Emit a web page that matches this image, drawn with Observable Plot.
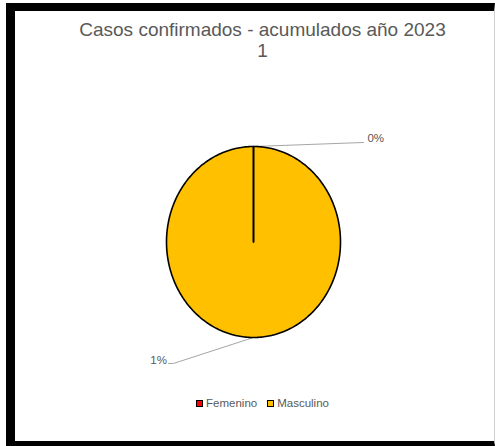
<!DOCTYPE html>
<html>
<head>
<meta charset="utf-8">
<script src="https://cdn.jsdelivr.net/npm/d3@7"></script>
<script src="https://cdn.jsdelivr.net/npm/@observablehq/plot@0.6"></script>
<style>
  html, body { margin: 0; padding: 0; background: #fff; }
  body { width: 495px; height: 446px; position: relative; overflow: hidden; font-family: "Liberation Sans", Arial, sans-serif; }
  #frame { position: absolute; left: 6px; top: 3px; width: 479px; height: 430px;
           border-left: 9px solid #000; border-top: 8px solid #000; border-bottom: 5px solid #000; border-right: 1px solid #d0d0d0; background: #fff; }
  #title { position: absolute; left: 8px; top: 8px; width: 479px; text-align: center; color: #595959; font-size: 19px; line-height: 21px; letter-spacing: 0; }
  #chart { position: absolute; left: 0; top: 0; }
  #legend { position: absolute; left: 8px; top: 385px; width: 479px; height: 14px; display: flex; justify-content: center; align-items: center; color: #595959; font-size: 11.5px; line-height: 14px; }
  .item { display: flex; align-items: center; margin: 0 5px; }
  .sw { width: 5px; height: 5px; border: 1.5px solid #000; margin-right: 3px; }
</style>
</head>
<body>
<div id="frame">
  <div id="chart"></div>
  <div id="title"></div>
  <div id="legend"></div>
</div>
<script>
// ---- data ----
const categories = ["Femenino", "Masculino"];
const values = [0, 1];
const colors = ["#FF0000", "#FFC000"];
const titleLines = ["Casos confirmados - acumulados año 2023", "1"];
const labelTexts = values.map(v => v + "%");

// ---- label layout (positions in unit-circle coordinates) ----
const labelLayout = {
  Femenino: { leader: [[1.264, 1.042]], text: [1.31, 1.09], anchor: "start" },
  Masculino: { leader: [[-0.92, -1.272], [-0.977, -1.272]], text: [-0.995, -1.235], anchor: "end" }
};

// ---- build slices ----
const pie = d3.pie().sort(null).value(d => d.value)(categories.map((c, i) => ({cat: c, value: values[i], label: labelTexts[i]})));
const slicePts = [];
const order = [1, 0]; // draw Masculino then Femenino
for (const k of order) {
  const a = pie[k];
  slicePts.push({cat: a.data.cat, x: 0, y: 0});
  const n = Math.max(1, Math.ceil((a.endAngle - a.startAngle) / (Math.PI / 180)));
  for (let j = 0; j <= n; j++) {
    const t = a.startAngle + (a.endAngle - a.startAngle) * j / n;
    slicePts.push({cat: a.data.cat, x: Math.sin(t), y: Math.cos(t)});
  }
  slicePts.push({cat: a.data.cat, x: 0, y: 0});
}

const leaderPts = [];
const labelPts = [];
for (const a of pie) {
  const mid = (a.startAngle + a.endAngle) / 2;
  const L = labelLayout[a.data.cat];
  leaderPts.push({cat: a.data.cat, x: Math.sin(mid), y: Math.cos(mid)});
  for (const p of L.leader) leaderPts.push({cat: a.data.cat, x: p[0], y: p[1]});
  labelPts.push({cat: a.data.cat, x: L.text[0], y: L.text[1], text: a.data.label, anchor: L.anchor});
}

const chart = Plot.plot({
  width: 479,
  height: 380,
  margin: 0,
  x: {domain: [-1, 1], range: [151, 325], axis: null},
  y: {domain: [-1, 1], range: [326, 135], axis: null},
  color: {domain: categories, range: colors},
  style: {background: "transparent", overflow: "visible"},
  marks: [
    Plot.line(leaderPts, {x: "x", y: "y", z: "cat", stroke: "#A6A6A6", strokeWidth: 1}),
    Plot.line(slicePts, {x: "x", y: "y", z: "cat", fill: "cat", stroke: "#000", strokeWidth: 1.6, strokeLinejoin: "round"}),
    Plot.text(labelPts.filter(d => d.anchor === "start"), {x: "x", y: "y", text: "text", textAnchor: "start", fill: "#595959", fontSize: 11.5, fontFamily: "Liberation Sans, Arial, sans-serif"}),
    Plot.text(labelPts.filter(d => d.anchor === "end"), {x: "x", y: "y", text: "text", textAnchor: "end", fill: "#595959", fontSize: 11.5, fontFamily: "Liberation Sans, Arial, sans-serif"})
  ]
});
document.getElementById("chart").appendChild(chart);

document.getElementById("title").innerHTML = titleLines.map(t => `<div>${t}</div>`).join("");
document.getElementById("legend").innerHTML = categories.map((c, i) =>
  `<div class="item"><div class="sw" style="background:${colors[i]}"></div><span>${c}</span></div>`).join("");
</script>
</body>
</html>
